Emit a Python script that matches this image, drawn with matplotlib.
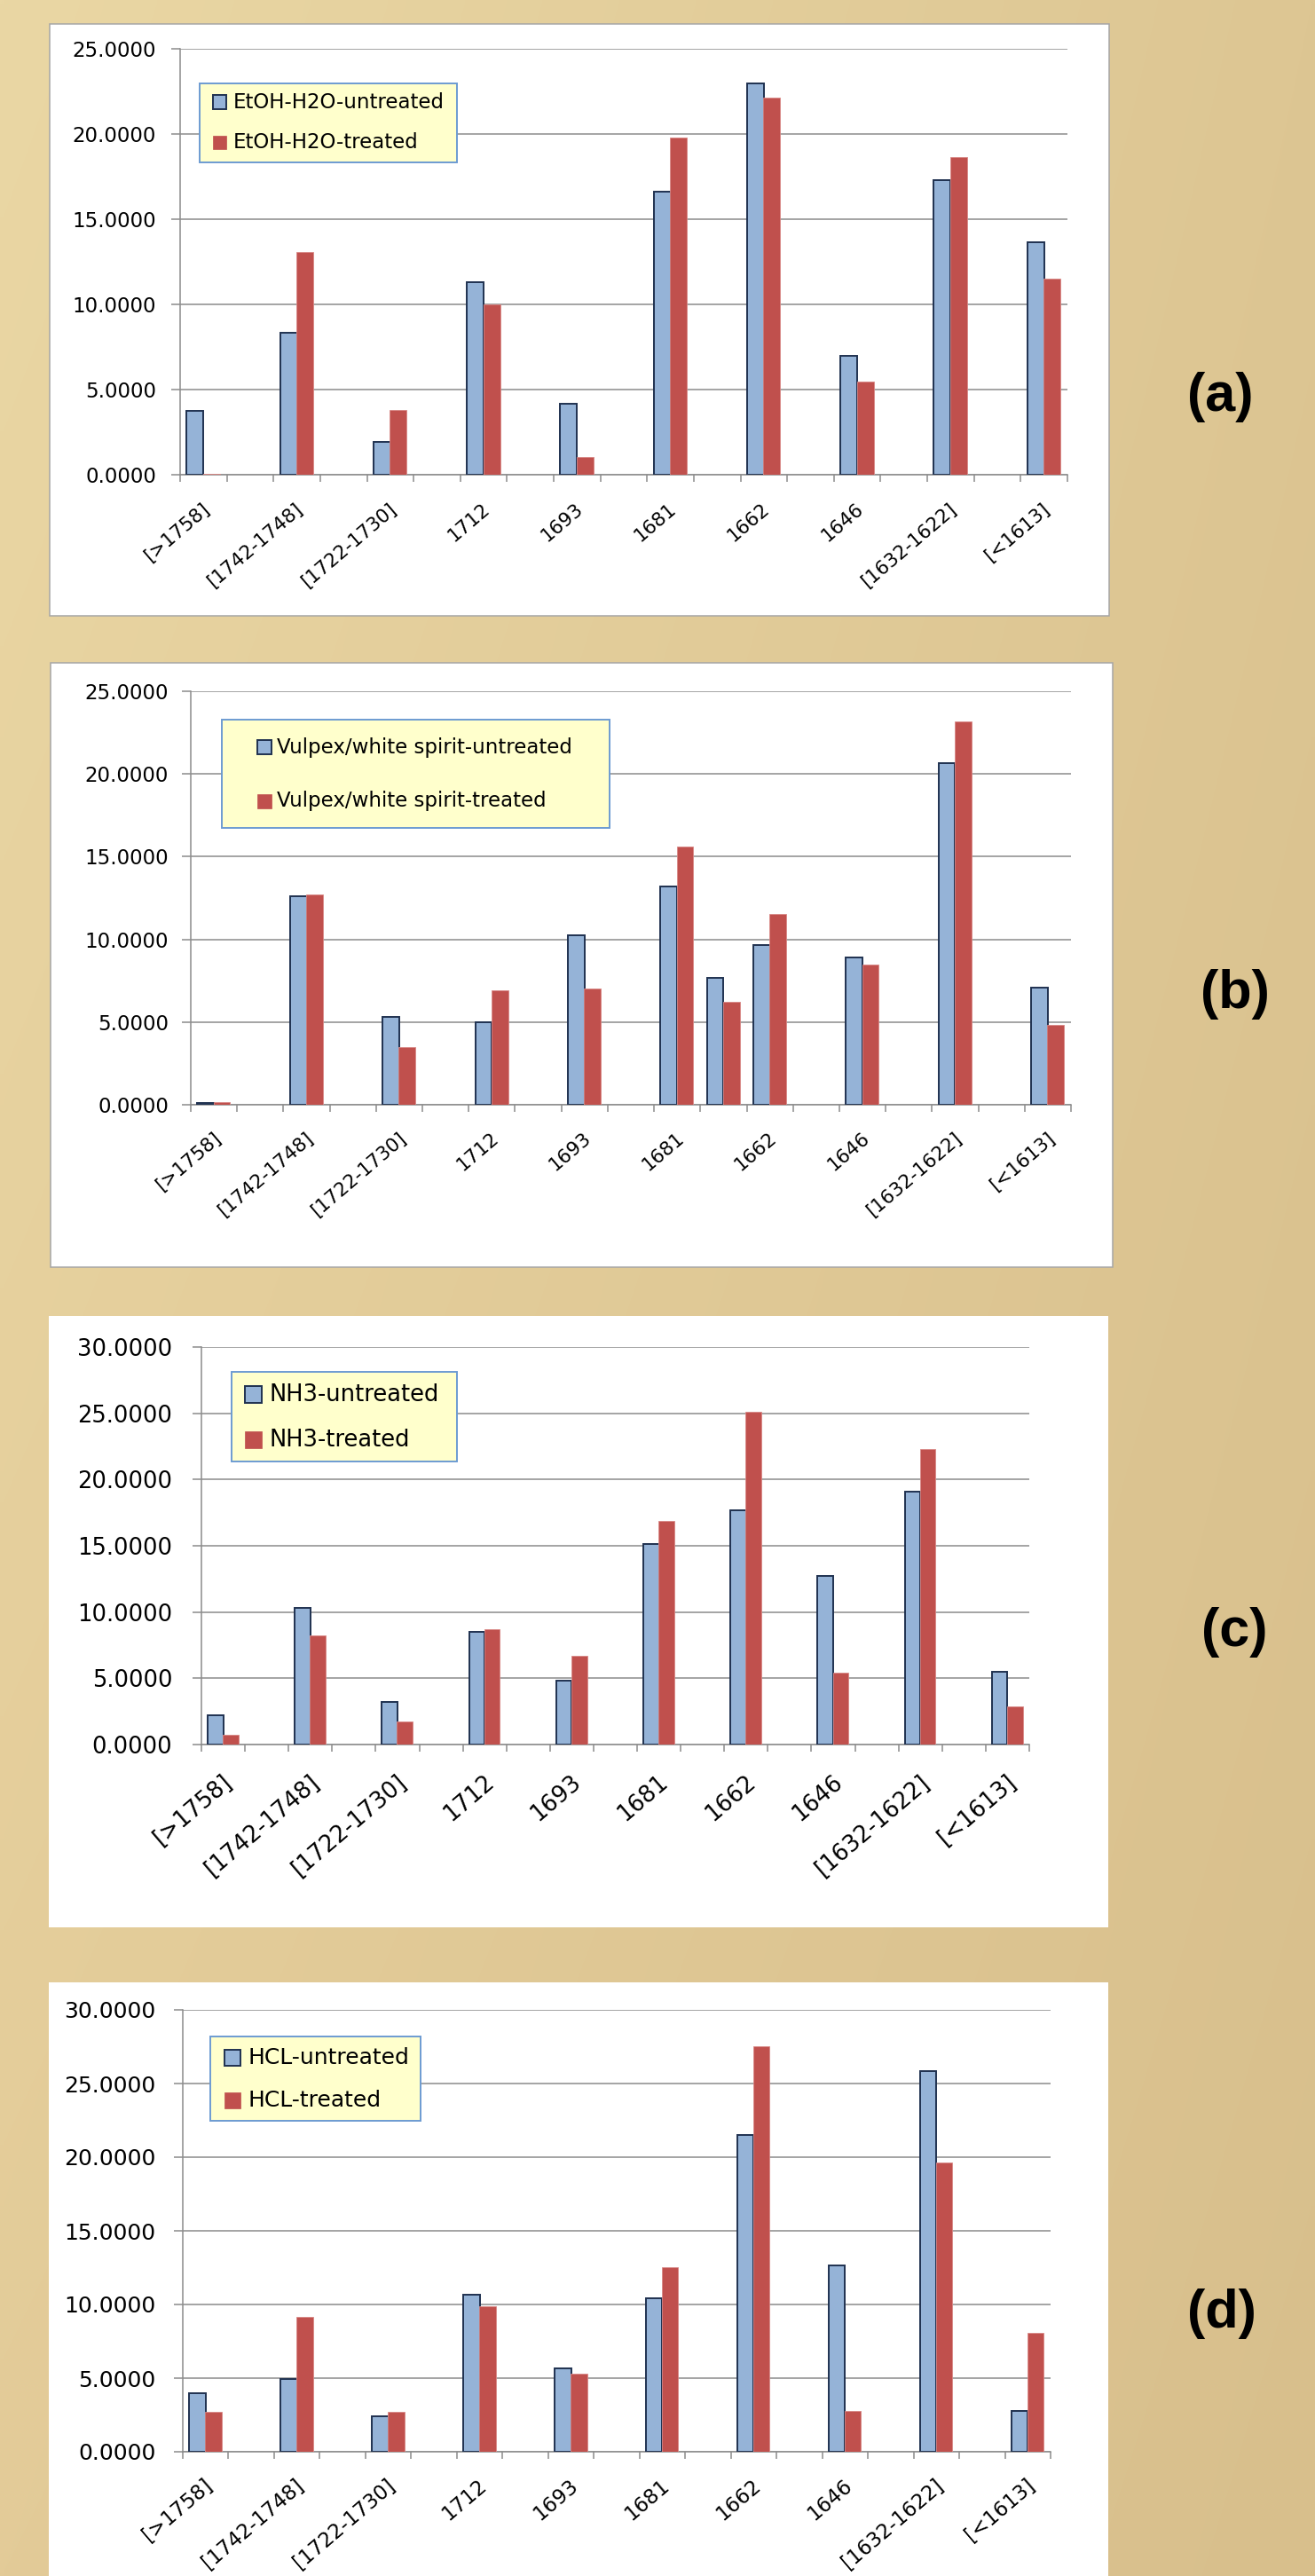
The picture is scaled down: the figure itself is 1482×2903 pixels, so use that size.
import numpy as np
import matplotlib
matplotlib.use("Agg")
import matplotlib.pyplot as plt
import matplotlib.transforms as mtransforms
from matplotlib.patches import Rectangle
from matplotlib.colors import to_rgb

W, H = 1482, 2903
nan = np.nan

# 19 category slots, every second one is left empty
categories = ['[>1758]', '', '[1742-1748]', '', '[1722-1730]', '', '1712', '',
              '1693', '', '1681', '', '1662', '', '1646', '', '[1632-1622]', '', '[<1613]']

etoh_untreated = [3.76, nan, 8.33, nan, 1.94, nan, 11.29, nan, 4.17, nan,
                  16.60, nan, 22.98, nan, 6.97, nan, 17.28, nan, 13.62]
etoh_treated = [0.05, nan, 13.08, nan, 3.79, nan, 10.00, nan, 1.02, nan,
                19.80, nan, 22.16, nan, 5.46, nan, 18.67, nan, 11.53]

vulpex_untreated = [0.10, nan, 12.60, nan, 5.31, nan, 5.01, nan, 10.25, nan,
                    13.20, 7.68, 9.66, nan, 8.91, nan, 20.66, nan, 7.09]
vulpex_treated = [0.15, nan, 12.72, nan, 3.49, nan, 6.94, nan, 7.04, nan,
                  15.59, 6.24, 11.55, nan, 8.48, nan, 23.18, nan, 4.84]

nh3_untreated = [2.24, nan, 10.33, nan, 3.24, nan, 8.50, nan, 4.79, nan,
                 15.16, nan, 17.71, nan, 12.73, nan, 19.11, nan, 5.51]
nh3_treated = [0.75, nan, 8.25, nan, 1.74, nan, 8.68, nan, 6.69, nan,
               16.90, nan, 25.12, nan, 5.42, nan, 22.28, nan, 2.86]

hcl_untreated = [3.96, nan, 4.92, nan, 2.42, nan, 10.66, nan, 5.66, nan,
                 10.44, nan, 21.48, nan, 12.64, nan, 25.82, nan, 2.75]
hcl_treated = [2.69, nan, 9.15, nan, 2.69, nan, 9.89, nan, 5.33, nan,
               12.55, nan, 27.53, nan, 2.80, nan, 19.62, nan, 8.10]

BLUE = '#95B3D7'
NAVY = '#1F3150'
RED = '#C0504D'
GRID = '#8C8C8C'


def fbox(x0, y0, x1, y1):
    """pixel box (top-left origin) -> figure fraction rect"""
    return [x0 / W, 1 - y1 / H, (x1 - x0) / W, (y1 - y0) / H]


def fpt(x, y):
    return x / W, 1 - y / H


fig = plt.figure(figsize=(W / 100, H / 100), dpi=100)

# tan background
bg = fig.add_axes([0, 0, 1, 1], zorder=-10)
tl, tr = np.array(to_rgb('#EAD7A4')), np.array(to_rgb('#DDC693'))
bl, br = np.array(to_rgb('#E3CB98')), np.array(to_rgb('#D8BF8C'))
u = np.linspace(0, 1, 200)[None, :, None]
v = np.linspace(0, 1, 400)[:, None, None]
grad = (1 - v) * ((1 - u) * tl + u * tr) + v * ((1 - u) * bl + u * br)
bg.imshow(grad, aspect='auto', extent=[0, 1, 0, 1], interpolation='bilinear')
bg.axis('off')


def panel(box, border, plot, ymax, untreated, treated, names, legend, fs,
          xfs, xpad, xshift, ypad, letter, letter_xy):
    # white card behind the chart
    x0, y0, x1, y1 = box
    fig.add_artist(Rectangle(fpt(x0, y1), (x1 - x0) / W, (y1 - y0) / H,
                             transform=fig.transFigure, facecolor='white',
                             edgecolor='#A6A6A6' if border else 'none',
                             linewidth=1.1, zorder=-5))

    ax = fig.add_axes(fbox(*plot))
    ax.set_facecolor('none')
    x = np.arange(len(categories))
    w = 0.36
    un = np.array(untreated)
    tr_ = np.array(treated)
    m1 = ~np.isnan(un)
    m2 = ~np.isnan(tr_)
    ax.bar(x[m1] - w / 2, un[m1], w, color=BLUE, edgecolor=NAVY, linewidth=1.4, zorder=3)
    ax.bar(x[m2] + w / 2 - 0.01, tr_[m2], w, color=RED, edgecolor='#D98886',
           linewidth=0.6, zorder=4)

    ax.set_xlim(-0.5, len(categories) - 0.5)
    ax.set_ylim(0, ymax)
    ax.set_yticks(np.arange(0, ymax + 1, 5))
    ax.set_yticklabels([f'{t:.4f}' for t in np.arange(0, ymax + 1, 5)], fontsize=fs)
    ax.yaxis.grid(True, color=GRID, linewidth=1.1)
    ax.set_axisbelow(True)

    ax.set_xticks(x)
    ax.set_xticklabels(categories, fontsize=xfs)
    ax.set_xticks(np.arange(-0.5, len(categories), 1), minor=True)
    ax.tick_params(axis='x', which='major', length=0, pad=xpad)
    ax.tick_params(axis='x', which='minor', length=5.8, width=1.1, color=GRID)
    ax.tick_params(axis='y', length=7, width=1.1, color=GRID, pad=ypad)
    shift = mtransforms.ScaledTranslation(xshift / 100, 0, fig.dpi_scale_trans)
    for lab in ax.get_xticklabels():
        lab.set_rotation(40.5)
        lab.set_ha('right')
        lab.set_va('center')
        lab.set_rotation_mode('anchor')
        lab.set_transform(lab.get_transform() + shift)

    for s in ['top', 'right']:
        ax.spines[s].set_visible(False)
    for s in ['left', 'bottom']:
        ax.spines[s].set_color(GRID)
        ax.spines[s].set_linewidth(1.1)

    # legend card
    lx0, ly0, lx1, ly1, hx, ys, hs, tx = legend
    fig.add_artist(Rectangle(fpt(lx0, ly1), (lx1 - lx0) / W, (ly1 - ly0) / H,
                             transform=fig.transFigure, facecolor='#FFFFCC',
                             edgecolor='#6C9BD2', linewidth=1.4, zorder=5))
    styles = [(BLUE, NAVY, 1.4), (RED, RED, 0.5)]
    for (fc, ec, lw), yy, name in zip(styles, ys, names):
        fig.add_artist(Rectangle(fpt(hx - hs / 2, yy + hs / 2), hs / W, hs / H,
                                 transform=fig.transFigure, facecolor=fc,
                                 edgecolor=ec, linewidth=lw, zorder=6))
        fig.text(*fpt(tx, yy), name, fontsize=fs, ha='left', va='center', zorder=7)

    fig.text(*fpt(*letter_xy), letter, fontsize=44, fontweight='bold',
             family=['Liberation Sans', 'DejaVu Sans'], ha='center', va='center')
    return ax


panel((56, 27, 1250, 694), True, (203, 55, 1203, 535), 25,
      etoh_untreated, etoh_treated, ['EtOH-H2O-untreated', 'EtOH-H2O-treated'],
      (225, 94, 515, 183, 247.5, (115, 160.5), 15, 263), 16.5, 15.5, 26, 4, 12.5,
      '(a)', (1375, 448))

panel((57, 747, 1254, 1428), True, (215, 779, 1207, 1245), 25,
      vulpex_untreated, vulpex_treated,
      ['Vulpex/white spirit-untreated', 'Vulpex/white spirit-treated'],
      (250, 811, 687, 933, 298, (842, 903), 16, 312), 16.5, 15.5, 25, 5, 11,
      '(b)', (1392, 1120))

panel((55, 1483, 1249, 2172), False, (227, 1518, 1160, 1966), 30,
      nh3_untreated, nh3_treated, ['NH3-untreated', 'NH3-treated'],
      (261, 1546, 515, 1647, 285.5, (1572, 1623), 19, 304), 18.5, 18.5, 28, 7, 16.5,
      '(c)', (1391, 1840))

panel((55, 2234, 1249, 2903), False, (206, 2265, 1184, 2763), 30,
      hcl_untreated, hcl_treated, ['HCL-untreated', 'HCL-treated'],
      (237, 2295, 474, 2390, 262, (2319, 2367), 18, 279), 18, 16.5, 25, 5, 15,
      '(d)', (1377, 2607))

fig.savefig('out.png', dpi=100)
